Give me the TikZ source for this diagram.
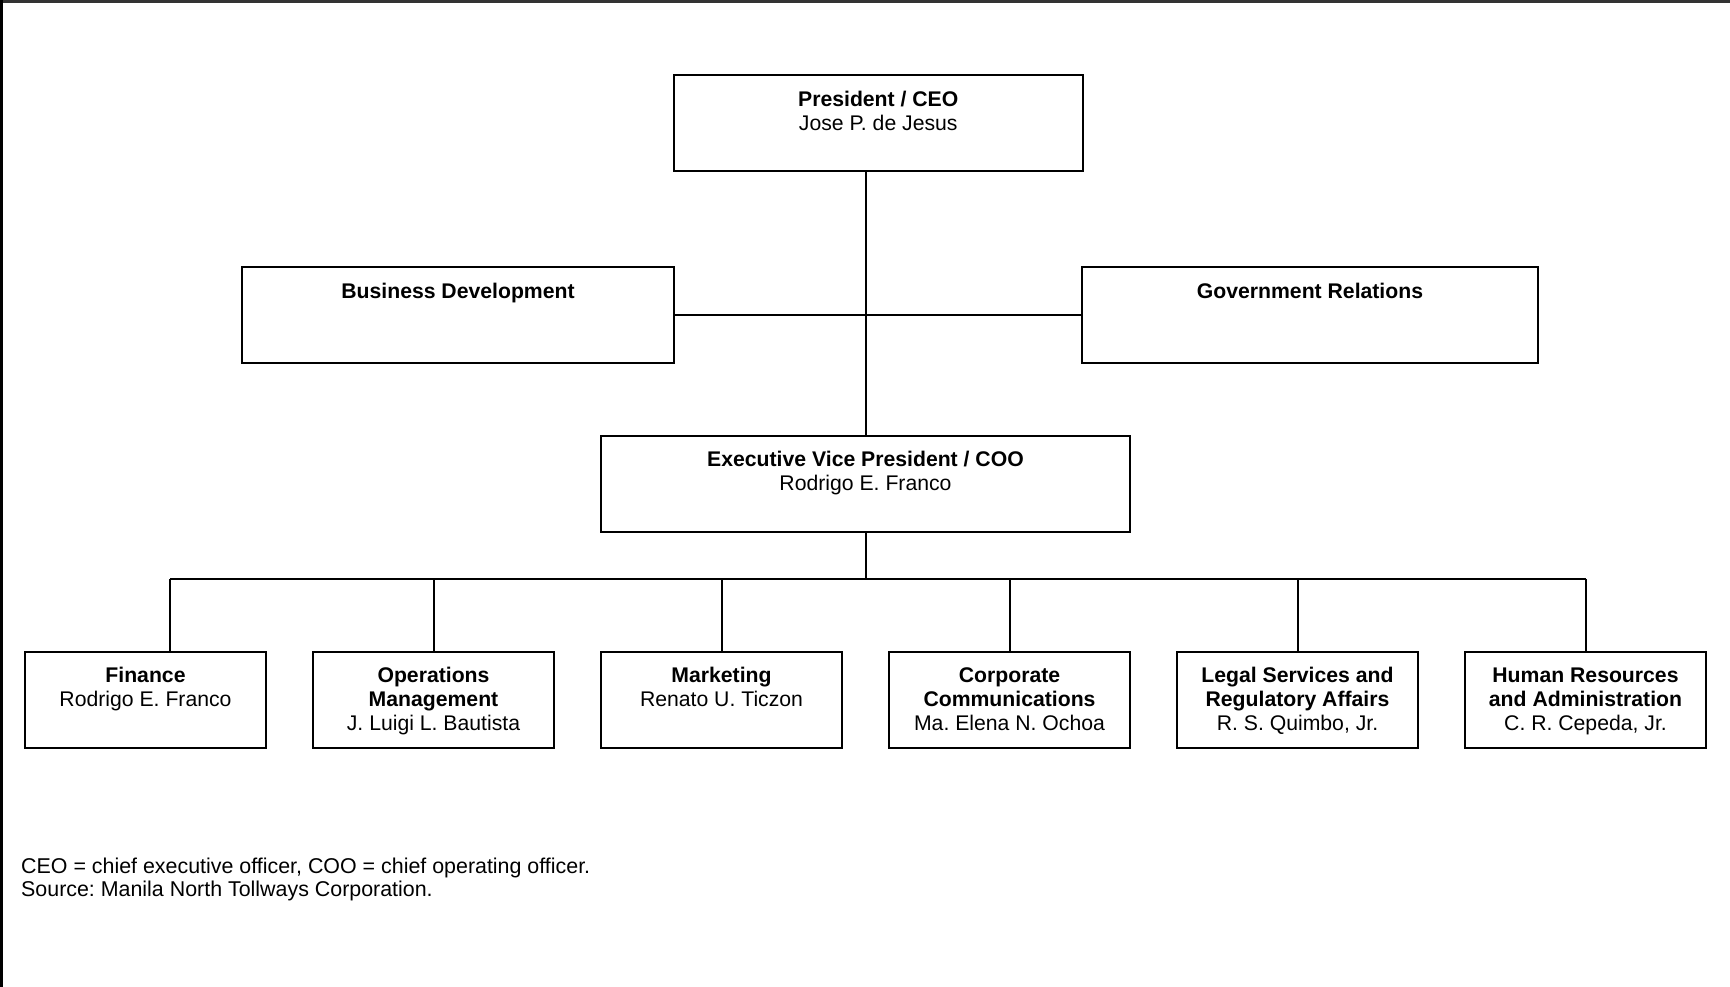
\documentclass[tikz,border=0pt]{standalone}
\usepackage{fontspec}
\setmainfont{Liberation Sans}
\frenchspacing
\begin{document}
\begin{tikzpicture}[x=1pt,y=-1pt,
  box/.style={draw=black, line width=2pt, rectangle, minimum height=96pt, inner sep=0pt},
  txt/.style={anchor=north, inner sep=0pt, align=center, font=\fontsize{21.2}{24.3}\selectfont},
  conn/.style={draw=black, line width=2pt},
  frame/.style={draw=black, line width=2.6pt}]
\useasboundingbox (0,0) rectangle (1730,987);
\draw[frame, draw=black!80] (0,1.5) -- (1730,1.5);
\draw[frame] (1.3,0) -- (1.3,987);

% top level
\node[box, minimum width=408.5pt] (ceo) at (878.25,123) {};
\node[txt] (ceot) at (878.25,89) {\strut\textbf{President / CEO}\\Jose P. de Jesus};

\node[box, minimum width=432pt] (bd) at (458,315) {};
\node[txt] (bdt) at (458,281) {\strut\textbf{Business Development}};

\node[box, minimum width=456pt] (gr) at (1310,315) {};
\node[txt] (grt) at (1310,281) {\strut\textbf{Government Relations}};

\node[box, minimum width=529pt] (evp) at (865.5,484) {};
\node[txt] (evpt) at (865.5,449) {\strut\textbf{Executive Vice President / COO}\\Rodrigo E. Franco};

% bottom level
\node[box, minimum width=241pt] (fin) at (145.5,700) {};
\node[txt] (fint) at (145.5,665) {\strut\textbf{Finance}\\Rodrigo E. Franco};
\node[box, minimum width=241pt] (ops) at (433.5,700) {};
\node[txt] (opst) at (433.5,665) {\strut\textbf{Operations}\\\textbf{Management}\\J. Luigi L. Bautista};
\node[box, minimum width=241pt] (mkt) at (721.5,700) {};
\node[txt] (mktt) at (721.5,665) {\strut\textbf{Marketing}\\Renato U. Ticzon};
\node[box, minimum width=241pt] (cc) at (1009.5,700) {};
\node[txt] (cct) at (1009.5,665) {\strut\textbf{Corporate}\\\textbf{Communications}\\Ma. Elena N. Ochoa};
\node[box, minimum width=241pt] (legal) at (1297.5,700) {};
\node[txt] (legalt) at (1297.5,665) {\strut\textbf{Legal Services and}\\\textbf{Regulatory Affairs}\\R. S. Quimbo, Jr.};
\node[box, minimum width=241pt] (hr) at (1585.5,700) {};
\node[txt] (hrt) at (1585.5,665) {\strut\textbf{Human Resources}\\\textbf{and Administration}\\C. R. Cepeda, Jr.};

% connectors
\coordinate (bus) at (865.5,579);
\coordinate (finjoin) at (170,579);
\draw[conn] (ceo.south -| evp.north) -- (evp.north);
\draw[conn] (bd.east) -- (gr.west);
\draw[conn] (evp.south) -- (bus);
\draw[conn] (finjoin) -- (hr.north |- bus);
\draw[conn] (finjoin) -- (finjoin |- fin.north);
\draw[conn] (ops.north |- bus) -- (ops.north);
\draw[conn] (mkt.north |- bus) -- (mkt.north);
\draw[conn] (cc.north |- bus) -- (cc.north);
\draw[conn] (legal.north |- bus) -- (legal.north);
\draw[conn] (hr.north |- bus) -- (hr.north);

% footnote
\node[anchor=north west, inner sep=0pt, align=left, font=\fontsize{21.4}{23}\selectfont] (note) at (21,857)
  {\strut CEO = chief executive officer, COO = chief operating officer.\\Source: Manila North Tollways Corporation.};
\end{tikzpicture}
\end{document}
